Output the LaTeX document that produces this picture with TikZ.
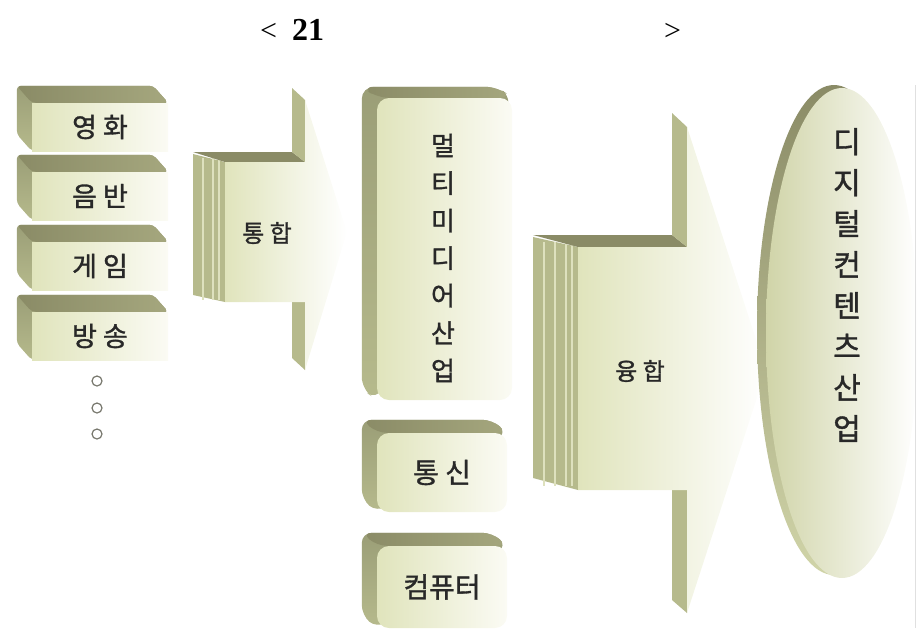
\documentclass[tikz,border=0pt]{standalone}
\usepackage{fontspec}
\setmainfont{Liberation Serif}
\newfontfamily\kr[FakeBold=1.2]{Noto Sans CJK KR}
\usetikzlibrary{shapes.geometric}
\pgfdeclarelayer{back}
\pgfsetlayers{back,main}
\definecolor{olDark}{RGB}{138,139,102}
\definecolor{olTop}{RGB}{165,167,126}
\definecolor{olMid}{RGB}{182,186,140}
\definecolor{olSoft}{RGB}{208,212,168}
\definecolor{faceL}{RGB}{224,228,188}
\definecolor{faceM}{RGB}{240,242,222}
\definecolor{faceR}{RGB}{251,251,244}
\definecolor{ringc}{RGB}{120,120,110}
\definecolor{stripec}{RGB}{222,225,190}
\definecolor{txt}{RGB}{40,40,40}
\newcommand\extrude[4]{%
 \begin{pgfonlayer}{back}
  \shade[top color=olMid!85!black, bottom color=olMid, rounded corners=#4]
    ([shift={(#2,#3)}]#1.north west) -- ([shift={(#2,#3)}]#1.north east) -- (#1.north east)
    -- (#1.south west) -- ([shift={(#2,#3)}]#1.south west) -- cycle;
  \shade[left color=olDark, right color=olTop, rounded corners=#4]
    ([shift={(#2,#3)}]#1.north west) -- ([shift={(#2,#3)}]#1.north east) -- (#1.north east)
    -- (#1.north west) -- cycle;
 \end{pgfonlayer}}
\tikzset{
  titlef/.style={font=\fontsize{30}{36}\selectfont, inner sep=0, anchor=base west},
  sbox/.style={rectangle, left color=faceL, right color=faceR, minimum width=136,
     minimum height=48, inner sep=0, text=txt, font=\kr\fontsize{27}{30}\selectfont},
  rbox/.style={rectangle, rounded corners=12, left color=faceL, right color=faceR,
     inner sep=0, text=txt, font=\kr\fontsize{28}{30}\selectfont},
  atext/.style={font=\kr\fontsize{24}{28}\selectfont, text=txt, inner sep=0},
  vtext/.style={font=\kr\fontsize{26}{37.5}\selectfont, text=txt, align=center, inner sep=0},
  etext/.style={font=\kr\fontsize{30}{41}\selectfont, text=txt, align=center, inner sep=0},
  ring/.style={circle, draw=ringc, fill=white, line width=1.2, minimum size=10, inner sep=0},
  sidef/.style={fill=olMid},
  topf/.style={fill=olDark},
  stripe/.style={draw=stripec, line width=1.3},
  arrowface/.style={left color=faceL, middle color=faceM, right color=white},
}
\begin{document}
\begin{tikzpicture}[x=1pt,y=-1pt]
\useasboundingbox (0,0) rectangle (921,640);

% title
\node[titlef] (lt) at (260,40) {<};
\node[titlef, font=\bfseries\fontsize{32}{38}\selectfont] (num) at (292,40) {21};
\node[titlef] (gt) at (664,40) {>};

% left boxes
\foreach \n/\yy/\t in {yh/127/영 화, ub/196/음 반, gm/266/게 임, bs/336/방 송}{
  \node[sbox] (\n) at (100,\yy) {\t};
  \extrude{\n}{-15}{-17}{4}
}
\node[ring] (d1) at (97,381) {};
\node[ring] (d2) at (97,408) {};
\node[ring] (d3) at (97,434) {};

% integration arrow
\fill[sidef] (193,154) -- (225,162) -- (225,302) -- (193,295) -- cycle;
\foreach \xx in {203,213,219} \draw[stripe] (\xx,158) -- (\xx,300);
\fill[topf] (193,152) -- (292,152) -- (305,162) -- (225,162) -- cycle;
\fill[sidef] (292,88) -- (305,100) -- (305,162) -- (292,152) -- cycle;
\fill[sidef] (292,290) -- (305,302) -- (305,370) -- (292,358) -- cycle;
\shade[arrowface] (225,162) -- (305,162) -- (305,100) -- (347,232) -- (305,370)
   -- (305,302) -- (225,302) -- cycle;
\node[atext] (th) at (267,233) {통 합};

% multimedia column
\node[rbox, minimum width=135, minimum height=302] (mm) at (444.5,249) {};
\extrude{mm}{-15}{-11}{12}
\node[vtext] (mmt) at (443,258) {멀\\티\\미\\디\\어\\산\\업};
\node[rbox, minimum width=130, minimum height=79] (ts) at (442,472.5) {통 신};
\extrude{ts}{-15}{-13}{10}
\node[rbox, minimum width=130, minimum height=82] (cp) at (442,587) {컴퓨터};
\extrude{cp}{-15}{-13}{10}

% convergence arrow
\fill[sidef] (533,237) -- (578,247) -- (578,490) -- (533,478) -- cycle;
\foreach \xx in {544,555,566,572} \draw[stripe] (\xx,242) -- (\xx,486);
\fill[topf] (533,235) -- (672,235) -- (687,247) -- (578,247) -- cycle;
\fill[sidef] (672,113) -- (687,127) -- (687,247) -- (672,235) -- cycle;
\fill[sidef] (672,478) -- (687,490) -- (687,613) -- (672,600) -- cycle;
\shade[arrowface] (578,247) -- (687,247) -- (687,127) -- (766,370) -- (687,613)
   -- (687,490) -- (578,490) -- cycle;
\node[atext] (yt) at (640,371) {융 합};

% digital contents ellipse
\shade[top color=olDark, bottom color=olSoft] (834,330) ellipse [x radius=77, y radius=245];
\node[ellipse, minimum width=152, minimum height=490, inner sep=0,
      left color=olSoft, middle color=faceM, right color=white] (dc) at (842,333) {};
\node[etext] (dct) at (847,285) {디\\지\\털\\컨\\텐\\츠\\산\\업};
\draw[black!12] (915,85) -- (915,628);
\end{tikzpicture}
\end{document}
